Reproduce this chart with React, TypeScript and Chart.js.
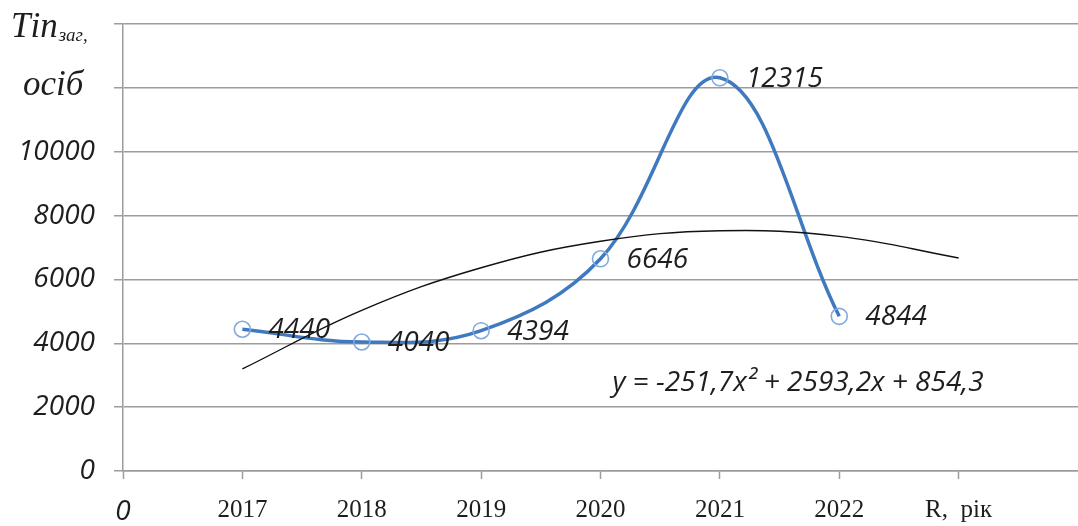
import React, { useEffect, useRef } from 'react';
import { Chart, registerables } from 'chart.js';

Chart.register(...registerables);

// ---- data ----
const xPositions = [1, 2, 3, 4, 5, 6];
const years = ['2017', '2018', '2019', '2020', '2021', '2022'];
const population = [4440, 4040, 4394, 6646, 12315, 4844];
const trendX = [1, 2, 3, 4, 5, 6, 7];
const trendValues = [3196, 5032, 6365, 7195, 7523, 7348, 6673];
const xTickLabels = ['0', ...years, 'R,  рік', ''];
const yMin = 0;
const yMax = 14000;
const yStep = 2000;
const yTitleMain = 'Тіп';
const yTitleSub = 'заг,';
const yTitleUnit = 'осіб';
const equationText = 'y = -251,7x² + 2593,2x + 854,3';
const equationAnchor = { x: 4.1, y: 2750 };

const SANS = '"Open Sans"';
const SERIF = '"Liberation Serif"';
const TEXT = '#1e1e1e';
const GRID = '#9c9c9c';

const annotations = {
  id: 'annotations',
  afterDraw(chart: any) {
    const { ctx, scales } = chart;
    const xs = scales.x;
    const ys = scales.y;
    ctx.save();
    // data labels
    ctx.fillStyle = TEXT;
    ctx.font = `italic 28px ${SANS}`;
    ctx.textAlign = 'left';
    ctx.textBaseline = 'middle';
    population.forEach((v, i) => {
      const px = xs.getPixelForValue(xPositions[i]);
      const py = ys.getPixelForValue(v);
      ctx.fillText(String(v), px + 26, py + 1);
    });
    // equation
    ctx.font = `italic 28px ${SANS}`;
    ctx.fillText(
      equationText,
      xs.getPixelForValue(equationAnchor.x),
      ys.getPixelForValue(equationAnchor.y)
    );
    // axis title
    const yTop = ys.getPixelForValue(14000);
    const y12 = ys.getPixelForValue(12000);
    ctx.font = `italic 35px ${SERIF}`;
    ctx.textBaseline = 'alphabetic';
    ctx.fillText(yTitleMain, 11, yTop + 13);
    const w = ctx.measureText(yTitleMain).width;
    ctx.font = `italic 19px ${SERIF}`;
    ctx.fillText(yTitleSub, 11 + w + 1, yTop + 17);
    ctx.font = `italic 35px ${SERIF}`;
    ctx.fillText(yTitleUnit, 23, y12 + 7);
    ctx.restore();
  },
};

export default function App() {
  const ref = useRef<HTMLCanvasElement | null>(null);
  useEffect(() => {
    if (!ref.current) return;
    const chart = new Chart(ref.current, {
      type: 'line',
      data: {
        datasets: [
          {
            label: 'trend',
            data: trendX.map((x, i) => ({ x, y: trendValues[i] })),
            borderColor: '#111',
            borderWidth: 1.4,
            pointRadius: 0,
            tension: 0.4,
            fill: false,
            order: 0,
          },
          {
            label: 'population',
            data: xPositions.map((x, i) => ({ x, y: population[i] })),
            borderColor: '#3f79c0',
            borderWidth: 3.5,
            tension: 0.38,
            pointStyle: 'circle',
            pointRadius: 8,
            pointBorderWidth: 1.6,
            pointBorderColor: '#82a9de',
            pointBackgroundColor: 'rgba(255,255,255,0)',
            fill: false,
            order: 1,
          },
        ],
      },
      options: {
        responsive: false,
        animation: false,
        devicePixelRatio: 1,
        layout: { autoPadding: false, padding: { top: 24, left: 0, right: 0, bottom: 0 } },
        plugins: {
          legend: { display: false },
          tooltip: { enabled: false },
        },
        scales: {
          x: {
            type: 'linear',
            min: 0,
            max: 8,
            afterFit: (s: any) => {
              s.height = 55;
              s.paddingLeft = 0;
              s.paddingRight = 0;
            },
            ticks: {
              stepSize: 1,
              autoSkip: false,
              maxRotation: 0,
              padding: 16,
              color: TEXT,
              callback: (v: any) => xTickLabels[Math.round(Number(v))] ?? '',
              font: (c: any) =>
                c.index === 0
                  ? { family: SANS, size: 28, style: 'italic' }
                  : { family: SERIF, size: 25 },
            },
            grid: {
              drawOnChartArea: false,
              drawTicks: true,
              tickLength: 8,
              tickWidth: 1.5,
              tickColor: (c: any) => (c.index === 8 ? 'rgba(0,0,0,0)' : GRID),
            },
            border: { display: true, color: GRID, width: 1.5 },
          },
          y: {
            type: 'linear',
            min: yMin,
            max: yMax,
            afterFit: (s: any) => {
              s.width = 123;
              s.paddingTop = 0;
              s.paddingBottom = 0;
            },
            ticks: {
              stepSize: yStep,
              padding: 19,
              color: TEXT,
              font: { family: SANS, size: 28, style: 'italic' },
              callback: (v: any) => (Number(v) >= 12000 ? '' : String(v)),
            },
            grid: {
              color: GRID,
              lineWidth: 1.5,
              drawTicks: true,
              tickLength: 9,
            },
            border: { display: true, color: GRID, width: 1.5 },
          },
        },
      },
      plugins: [annotations],
    });
    return () => chart.destroy();
  }, []);
  return (
    <div style={{ position: 'absolute', left: 0, top: 0, width: 1078, height: 526, background: '#fff' }}>
      <canvas ref={ref} width={1078} height={526} style={{ width: 1078, height: 526 }} />
    </div>
  );
}
